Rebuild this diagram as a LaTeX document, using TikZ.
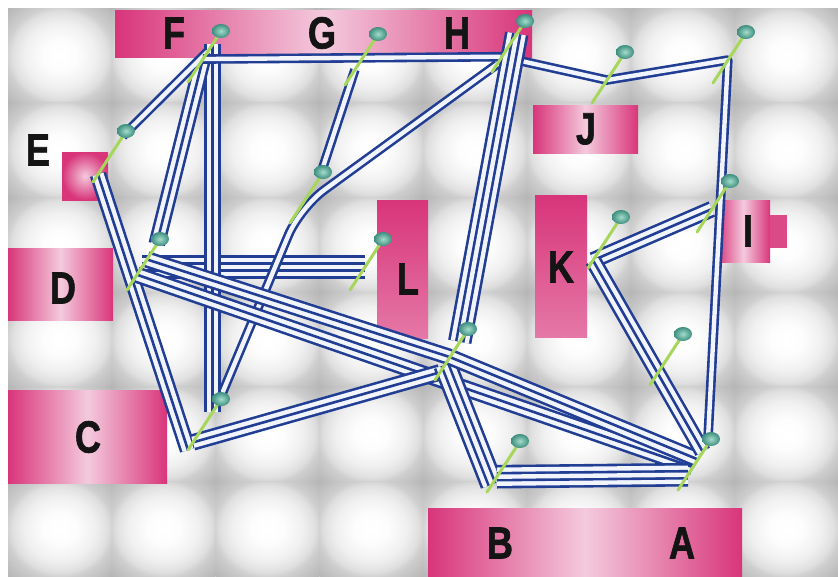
\documentclass[tikz,border=0pt]{standalone}
\usepackage{fontspec}
\setmainfont{Liberation Sans}[BoldFeatures={FakeBold=1.6}]
\usepackage{xcolor}
\definecolor{Wire}{HTML}{213E94}
\definecolor{Gap}{HTML}{F1F4FC}
\definecolor{PinkD}{HTML}{D8357A}
\definecolor{PinkL}{HTML}{F4CADD}
\definecolor{Stick}{HTML}{A6D65A}
\definecolor{KnobL}{HTML}{A3DCCB}
\definecolor{KnobD}{HTML}{3E8E7F}
\definecolor{Tile}{HTML}{B4B4B4}
\usetikzlibrary{calc}
\pgfdeclareradialshading{tileshade}{\pgfpoint{0bp}{0bp}}{color(0bp)=(white);color(8bp)=(white!97!Tile);color(17bp)=(white!80!Tile);color(23bp)=(white!58!Tile);color(26bp)=(white!35!Tile);color(36bp)=(Tile);color(50bp)=(Tile)}
\newcommand\slim[1]{\scalebox{.8}[1]{#1}}
% pole name / foot x / foot y
\def\poles{F/188/82,G/345/85,H/492/72,J/592/103,R/713/83,E/93/182,M/290/223,D/127/290,L/350/290,K/588/268,I/697/232,C/188/450,X/435/380,N/650/385,B/487/492,A/678/490}

\begin{document}
\begin{tikzpicture}[x=1pt,y=-1pt,
  tile/.style={shading=tileshade},
  pinkh/.style={left color=PinkD,right color=PinkD,middle color=PinkL},
  pinkv/.style={top color=PinkD,bottom color=PinkD!55!PinkL},
  lbl/.style={font=\bfseries\fontsize{45}{45}\selectfont,text=black!92,inner sep=0pt},
  cable2/.style={draw=Wire,line width=9.6pt,line join=round,postaction={draw=Gap,line width=4.4pt}},
  cable3/.style={draw=Wire,line width=16.6pt,line join=round,postaction={draw=Gap,line width=11.4pt},postaction={draw=Wire,line width=2.6pt}},
  cable4/.style={draw=Wire,line width=23.6pt,line join=round,postaction={draw=Gap,line width=18.4pt},postaction={draw=Wire,line width=9.6pt},postaction={draw=Gap,line width=4.4pt}},
  stick/.style={draw=Stick,line width=3pt,line cap=round},
  knob/.style={inner color=KnobL,outer color=KnobD}]
\useasboundingbox (0,0) rectangle (838,576);
\fill[white] (0,0) rectangle (838,576);
\foreach \i in {0,...,7} \foreach \j in {0,...,5}
  \shade[tile] ({8+\i*103.75},{8+\j*94.67}) rectangle ++(103.75,94.67);
% rooms
\shade[pinkh] (115,10) rectangle (532,57);
\shade[inner color=PinkL,outer color=PinkD] (62,152) rectangle (108,200);
\shade[pinkh] (8,248) rectangle (113,320);
\shade[pinkh] (8,390) rectangle (167,483);
\shade[pinkv] (377,200) rectangle (428,338);
\shade[pinkh] (533,105) rectangle (638,153);
\shade[pinkv] (535,195) rectangle (587,337);
\shade[pinkh] (717,200) rectangle (770,262);
\fill[PinkD!90] (770,215) rectangle (787,248);
\shade[pinkh] (428,508) rectangle (742,576);
\node[lbl] (lF) at (174,33) {\slim{F}};
\node[lbl] (lG) at (322,33) {\slim{G}};
\node[lbl] (lH) at (457,33) {\slim{H}};
\node[lbl] (lE) at (38,150) {\slim{E}};
\node[lbl] (lD) at (63,288) {\slim{D}};
\node[lbl] (lC) at (88,437) {\slim{C}};
\node[lbl] (lL) at (408,279) {\slim{L}};
\node[lbl] (lJ) at (586,129) {\slim{J}};
\node[lbl] (lK) at (561,267) {\slim{K}};
\node[lbl] (lI) at (748,231) {\slim{I}};
\node[lbl] (lB) at (500,543) {\slim{B}};
\node[lbl] (lA) at (682,543) {\slim{A}};
% attach points along each pole
\foreach \n/\x/\y in \poles {\coordinate (p\n) at (\x,\y);
  \foreach \k in {1,...,6} \coordinate (p\n\k) at ({\x+33*0.15*\k},{\y-51*0.15*\k});}
% cables
\draw[cable4] (pD3) -- (pL3);
\draw[cable3] (pE1) -- (pC);
\draw[cable2,rounded corners=30pt] (pC6) -- (pM2) -- (pH1);
\draw[cable2] (pG2) -- (pM6);
\draw[cable3] (pF5) -- (pC5);
\draw[cable3] (pF3) -- (pD6);
\draw[cable2] (pE6) -- (pF4);
\draw[cable2] (pF3) -- (pH2) -- (pJ3) -- (pR3) -- (pA6);
\draw[cable3] (pD4) -- (pX3);
\draw[cable3] (pD2) -- (pA3);
\draw[cable3] (pX1) -- (pC1);
\draw[cable4] (pX2) -- (pB1);
\draw[cable4] (pX5) -- (pH5);
\draw[cable3] (pX3) -- (pA4);
\draw[cable4] (pB2) -- (pA2);
\draw[cable3] (pK1) -- (pI3);
\draw[cable3] (pK1) -- (pA5);
% poles
\foreach \n/\x/\y in \poles {\draw[stick] (p\n) -- ({\x+30},{\y-46});
  \shade[knob] ({\x+33},{\y-51}) ellipse [x radius=9,y radius=7];}
\end{tikzpicture}
\end{document}
